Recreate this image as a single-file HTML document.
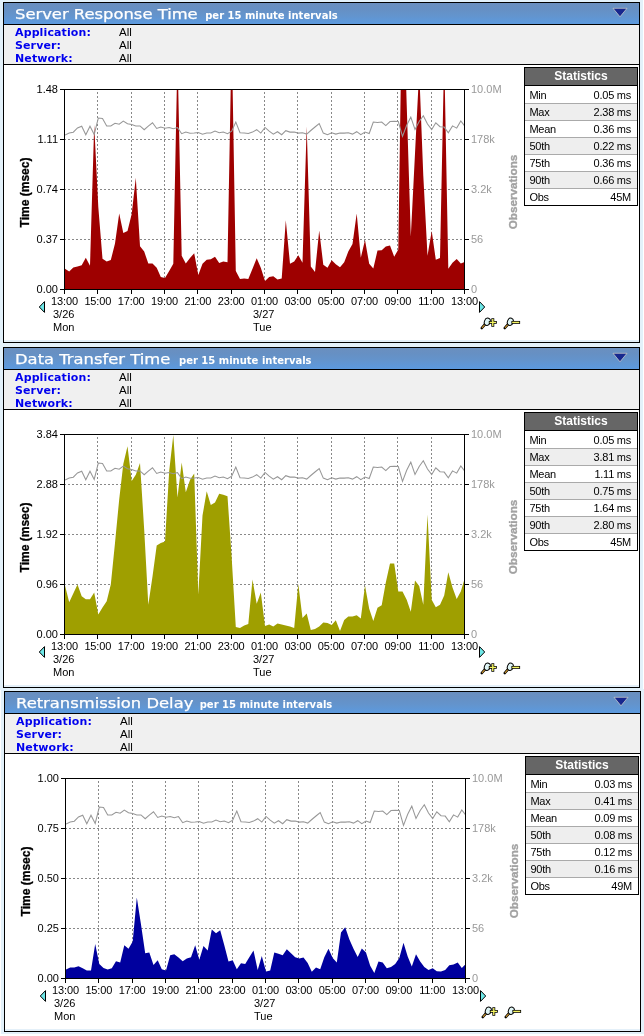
<!DOCTYPE html>
<html lang="en"><head><meta charset="utf-8"><title>Response Time Charts</title>
<style>
html,body{margin:0;padding:0;}
body{width:644px;height:1036px;background:#fff;position:relative;overflow:hidden;
 font-family:"Liberation Sans",sans-serif;font-size:11px;color:#000;}
.bg{position:absolute;background:#e3f1fa;}
.panel{position:absolute;left:3px;width:635px;height:339px;border:1px solid #000;background:#fff;}
.hd{position:relative;height:21px;border-bottom:1px solid #000;
 background:linear-gradient(#6a8fbf 0%,#6690c4 30%,#6394cd 60%,#5c9adf 100%);
 color:#fff;font-family:"DejaVu Sans","Liberation Sans",sans-serif;white-space:nowrap;}
.hd .t{position:absolute;left:11px;top:1.8px;font-size:13.75px;line-height:19px;letter-spacing:0;transform:scaleX(1.19);transform-origin:0 50%;-webkit-text-stroke:0.25px #fff;}
.hd .s{position:absolute;top:7px;font-size:10px;line-height:12px;font-weight:bold;}
.hd svg{position:absolute;left:608px;top:4px;}
.info{position:relative;height:39px;border-bottom:1px solid #000;background:#f0f0f0;}
.info div{position:absolute;left:11px;height:13px;line-height:13px;white-space:nowrap;}
.info b{font-family:"DejaVu Sans","Liberation Sans",sans-serif;font-size:11px;color:#0000ee;font-weight:bold;letter-spacing:0.12px;}
.info span{position:absolute;left:104px;top:0;font-size:11.5px;}
.body{position:relative;height:277px;background:linear-gradient(#fff 0,#fff 275px,#e4f0f9 275px);}
.body svg{position:absolute;left:0;top:0;}
.st{position:absolute;left:520px;top:2px;width:112px;height:137px;border:1px solid #000;font-size:11px;background:#fff;}
.st .h{height:17px;line-height:16px;border-bottom:1px solid #000;background:#666;color:#fff;font-weight:bold;font-size:12px;text-align:center;}
.st .r{position:relative;height:16px;border-top:1px solid #aaa;line-height:17px;}
.st .r.f{height:17px;border-top:none;}
.st .r.a{background:#eee;}
.st .r.f span,.st .r.f i{top:1px;}
.st .r span{position:absolute;left:4.5px;top:0.3px;letter-spacing:-0.3px;}
.st .r i{position:absolute;right:6px;top:0.3px;font-style:normal;letter-spacing:-0.25px;}
</style></head><body>
<div class="bg" style="left:0;top:0;width:643px;height:690px"></div><div class="bg" style="left:1px;top:689px;width:643px;height:345px"></div>
<div class="panel" style="top:2px;left:3px">
<div class="hd"><span class="t">Server Response Time</span><span class="s" style="left:201.2px">per 15 minute intervals</span>
<svg width="16" height="12" viewBox="0 0 16 12"><path d="M1.0,1.3 H15.0 L8,9.8 Z" fill="#17278e" stroke="#d4d2cc" stroke-width="0.7"/></svg></div>
<div class="info"><div style="top:1px"><b>Application:</b><span>All</span></div><div style="top:14px"><b>Server:</b><span>All</span></div><div style="top:27px"><b>Network:</b><span>All</span></div></div>
<div class="body">
<svg width="635" height="277" viewBox="4 65 635 277" font-family="'Liberation Sans',sans-serif" font-size="11">
<defs><clipPath id="c0"><rect x="65" y="90" width="399" height="199"/></clipPath></defs>
<path d="M65,139.5H464 M65,189.5H464 M65,239.5H464" stroke="#888" stroke-width="1" stroke-dasharray="2 2" stroke-dashoffset="1" fill="none" shape-rendering="crispEdges"/>
<path d="M97.5,90V289 M131.5,90V289 M164.5,90V289 M197.5,90V289 M231.5,90V289 M264.5,90V289 M297.5,90V289 M331.5,90V289 M364.5,90V289 M397.5,90V289 M431.5,90V289" stroke="#888" stroke-width="1" stroke-dasharray="2 2" stroke-dashoffset="2" fill="none" shape-rendering="crispEdges"/>
<path d="M65.0,289.5 L65.0,268.8 L69.2,271.5 L73.3,267.4 L77.5,266.4 L81.7,265.2 L85.8,257.7 L90.0,265.8 L94.2,125.0 L98.3,207.1 L102.5,258.7 L106.7,261.4 L110.8,260.1 L115.0,243.5 L119.2,213.5 L123.3,233.0 L127.5,231.0 L131.7,214.1 L135.8,177.7 L140.0,246.2 L144.2,251.6 L148.3,263.4 L152.5,263.4 L156.7,267.8 L160.8,277.0 L165.0,278.0 L169.2,270.9 L173.3,263.8 L177.5,53.5 L181.7,255.7 L185.8,263.4 L190.0,258.1 L194.2,253.2 L198.3,274.9 L202.5,263.8 L206.7,259.7 L210.8,259.3 L215.0,256.7 L219.2,263.0 L223.3,261.4 L227.5,262.2 L231.7,34.5 L235.8,270.9 L240.0,279.0 L244.2,278.4 L248.3,279.0 L252.5,268.8 L256.7,258.3 L260.8,267.8 L265.0,281.0 L269.2,277.0 L273.3,276.3 L277.5,279.6 L281.7,278.6 L285.8,220.2 L290.0,263.8 L294.2,261.4 L298.3,255.3 L302.5,262.8 L306.7,126.6 L310.8,266.4 L315.0,271.9 L319.2,230.4 L323.3,264.8 L327.5,267.8 L331.7,260.3 L335.8,264.2 L340.0,267.2 L344.2,262.2 L348.3,251.6 L352.5,244.1 L356.7,213.5 L360.8,257.7 L365.0,240.1 L369.2,263.8 L373.3,268.4 L377.5,250.6 L381.7,250.2 L385.8,246.6 L390.0,245.5 L394.2,256.7 L398.3,249.6 L402.5,-32.1 L406.7,104.5 L410.8,236.4 L415.0,153.4 L419.2,70.5 L423.3,175.7 L427.5,255.7 L431.7,231.0 L435.8,259.7 L440.0,258.1 L444.2,54.5 L448.3,268.8 L452.5,262.8 L456.7,259.1 L460.8,263.4 L465.0,261.8 L465.0,289.5 Z" fill="#9e0000" clip-path="url(#c0)"/>
<polyline points="65.0,135.1 69.2,133.1 73.3,132.2 77.5,128.0 81.7,126.2 85.8,134.8 90.0,126.2 94.2,134.5 98.3,118.0 102.5,118.5 106.7,125.9 110.8,125.9 115.0,123.2 119.2,124.2 123.3,121.1 127.5,123.7 131.7,124.5 135.8,125.9 140.0,125.9 144.2,129.7 148.3,126.2 152.5,122.8 156.7,128.5 160.8,127.1 165.0,128.3 169.2,127.6 173.3,128.7 177.5,127.6 181.7,133.7 185.8,132.1 190.0,133.3 194.2,133.1 198.3,132.5 202.5,134.3 206.7,133.1 210.8,132.9 215.0,131.1 219.2,132.7 223.3,132.1 227.5,133.7 231.7,131.1 235.8,122.0 240.0,132.7 244.2,133.1 248.3,133.5 252.5,132.1 256.7,129.7 260.8,133.1 265.0,127.4 269.2,131.1 273.3,134.1 277.5,131.7 281.7,134.7 285.8,130.7 290.0,132.1 294.2,132.1 298.3,133.1 302.5,132.7 306.7,134.1 310.8,130.5 315.0,127.0 319.2,123.6 323.3,133.1 327.5,134.7 331.7,132.7 335.8,134.1 340.0,133.1 344.2,133.1 348.3,132.7 352.5,134.1 356.7,131.7 360.8,134.7 365.0,132.1 369.2,133.5 373.3,122.0 377.5,122.4 381.7,122.0 385.8,125.6 390.0,121.6 394.2,121.3 398.3,121.5 402.5,136.4 406.7,125.3 410.8,117.2 415.0,129.5 419.2,121.5 423.3,115.7 427.5,124.0 431.7,129.5 435.8,122.8 440.0,126.7 444.2,127.1 448.3,132.7 452.5,125.9 456.7,128.1 460.8,120.9 465.0,126.5" fill="none" stroke="#979797" stroke-width="1.05" clip-path="url(#c0)"/>
<path d="M64.5,89V290 M464.5,89V290 M64,89.5H465 M64,289.5H465 M60,89.5H64 M465,89.5H469 M60,139.5H64 M465,139.5H469 M60,189.5H64 M465,189.5H469 M60,239.5H64 M465,239.5H469 M60,289.5H64 M465,289.5H469 M64.5,290V294 M97.5,290V294 M131.5,290V294 M164.5,290V294 M197.5,290V294 M231.5,290V294 M264.5,290V294 M297.5,290V294 M331.5,290V294 M364.5,290V294 M397.5,290V294 M431.5,290V294 M464.5,290V294" stroke="#000" stroke-width="1" fill="none" shape-rendering="crispEdges"/>
<text x="58" y="93" text-anchor="end">1.48</text>
<text x="58" y="143" text-anchor="end">1.11</text>
<text x="58" y="193" text-anchor="end">0.74</text>
<text x="58" y="243" text-anchor="end">0.37</text>
<text x="58" y="293" text-anchor="end">0.00</text>
<text x="471" y="93" fill="#999">10.0M</text>
<text x="471" y="143" fill="#999">178k</text>
<text x="471" y="193" fill="#999">3.2k</text>
<text x="471" y="243" fill="#999">56</text>
<text x="471" y="293" fill="#999">0</text>
<text x="64.5" y="305" text-anchor="middle" letter-spacing="-0.15">13:00</text>
<text x="97.8" y="305" text-anchor="middle" letter-spacing="-0.15">15:00</text>
<text x="131.2" y="305" text-anchor="middle" letter-spacing="-0.15">17:00</text>
<text x="164.5" y="305" text-anchor="middle" letter-spacing="-0.15">19:00</text>
<text x="197.8" y="305" text-anchor="middle" letter-spacing="-0.15">21:00</text>
<text x="231.2" y="305" text-anchor="middle" letter-spacing="-0.15">23:00</text>
<text x="264.5" y="305" text-anchor="middle" letter-spacing="-0.15">01:00</text>
<text x="297.8" y="305" text-anchor="middle" letter-spacing="-0.15">03:00</text>
<text x="331.2" y="305" text-anchor="middle" letter-spacing="-0.15">05:00</text>
<text x="364.5" y="305" text-anchor="middle" letter-spacing="-0.15">07:00</text>
<text x="397.8" y="305" text-anchor="middle" letter-spacing="-0.15">09:00</text>
<text x="431.2" y="305" text-anchor="middle" letter-spacing="-0.15">11:00</text>
<text x="464.5" y="305" text-anchor="middle" letter-spacing="-0.15">13:00</text>
<text x="53" y="318">3/26</text><text x="53" y="331">Mon</text>
<text x="253" y="318">3/27</text><text x="253" y="331">Tue</text>
<text transform="translate(28.8,192.5) rotate(-90)" text-anchor="middle" font-weight="bold" font-size="12" stroke="#000" stroke-width="0.3">Time (msec)</text>
<text transform="translate(517,192) rotate(-90)" text-anchor="middle" font-weight="bold" font-size="11.7" fill="#a2a2a2" stroke="#a2a2a2" stroke-width="0.35">Observations</text>
<path d="M39.3,307 L44.5,301.6 V312.4 Z" fill="#6ee8e8" stroke="#000" stroke-width="1"/>
<path d="M484.7,307 L479.5,301.6 V312.4 Z" fill="#6ee8e8" stroke="#000" stroke-width="1"/>
<g transform="translate(481,318)">
<path d="M0.8,10 L4.4,5.9" stroke="#000" stroke-width="2.6" stroke-linecap="round"/>
<path d="M1.0,9.8 L4.4,5.9" stroke="#c8922a" stroke-width="1.2" stroke-linecap="butt"/>
<ellipse cx="6.3" cy="3.8" rx="2.9" ry="3.7" transform="rotate(20 6.3 3.8)" fill="#dff5f5" stroke="#000" stroke-width="1"/>
<path d="M7.8,4.4H15.8M11.8,0.2V8.8" stroke="#000" stroke-width="2.9"/>
<path d="M8.6,4.4H15.0M11.8,1.0V8.0" stroke="#f4f462" stroke-width="1.4"/>
</g>
<g transform="translate(504,318)">
<path d="M0.8,10 L4.4,5.9" stroke="#000" stroke-width="2.6" stroke-linecap="round"/>
<path d="M1.0,9.8 L4.4,5.9" stroke="#c8922a" stroke-width="1.2" stroke-linecap="butt"/>
<ellipse cx="6.3" cy="3.8" rx="2.9" ry="3.7" transform="rotate(20 6.3 3.8)" fill="#dff5f5" stroke="#000" stroke-width="1"/>
<path d="M7.4,4.4H16.1" stroke="#000" stroke-width="2.9"/>
<path d="M8.2,4.4H15.3" stroke="#f4f462" stroke-width="1.4"/>
</g>
</svg>
<div class="st"><div class="h">Statistics</div>
<div class="r f"><span>Min</span><i>0.05 ms</i></div>
<div class="r a"><span>Max</span><i>2.38 ms</i></div>
<div class="r"><span>Mean</span><i>0.36 ms</i></div>
<div class="r a"><span>50th</span><i>0.22 ms</i></div>
<div class="r"><span>75th</span><i>0.36 ms</i></div>
<div class="r a"><span>90th</span><i>0.66 ms</i></div>
<div class="r"><span>Obs</span><i>45M</i></div>
</div>
</div></div>
<div class="panel" style="top:347px;left:3px">
<div class="hd"><span class="t">Data Transfer Time</span><span class="s" style="left:175.0px">per 15 minute intervals</span>
<svg width="16" height="12" viewBox="0 0 16 12"><path d="M1.0,1.3 H15.0 L8,9.8 Z" fill="#17278e" stroke="#d4d2cc" stroke-width="0.7"/></svg></div>
<div class="info"><div style="top:1px"><b>Application:</b><span>All</span></div><div style="top:14px"><b>Server:</b><span>All</span></div><div style="top:27px"><b>Network:</b><span>All</span></div></div>
<div class="body">
<svg width="635" height="277" viewBox="4 65 635 277" font-family="'Liberation Sans',sans-serif" font-size="11">
<defs><clipPath id="c1"><rect x="65" y="90" width="399" height="199"/></clipPath></defs>
<path d="M65,139.5H464 M65,189.5H464 M65,239.5H464" stroke="#888" stroke-width="1" stroke-dasharray="2 2" stroke-dashoffset="1" fill="none" shape-rendering="crispEdges"/>
<path d="M97.5,90V289 M131.5,90V289 M164.5,90V289 M197.5,90V289 M231.5,90V289 M264.5,90V289 M297.5,90V289 M331.5,90V289 M364.5,90V289 M397.5,90V289 M431.5,90V289" stroke="#888" stroke-width="1" stroke-dasharray="2 2" stroke-dashoffset="2" fill="none" shape-rendering="crispEdges"/>
<path d="M65.0,289.5 L65.0,240.5 L69.2,257.3 L73.3,248.6 L77.5,239.5 L81.7,251.2 L85.8,254.3 L90.0,254.3 L94.2,247.6 L98.3,269.5 L102.5,262.4 L106.7,256.3 L110.8,239.5 L115.0,197.9 L119.2,154.4 L123.3,118.9 L127.5,101.3 L131.7,136.1 L135.8,129.7 L140.0,117.9 L144.2,184.8 L148.3,259.7 L152.5,231.4 L156.7,200.6 L160.8,197.9 L165.0,196.5 L169.2,126.0 L173.3,90.0 L177.5,152.4 L181.7,117.5 L185.8,147.3 L190.0,135.1 L194.2,128.4 L198.3,249.6 L202.5,170.6 L206.7,146.3 L210.8,160.1 L215.0,157.4 L219.2,148.7 L223.3,149.7 L227.5,151.3 L231.7,213.1 L235.8,282.0 L240.0,283.0 L244.2,280.4 L248.3,279.0 L252.5,234.4 L256.7,258.7 L260.8,247.6 L265.0,281.0 L269.2,279.4 L273.3,281.4 L277.5,278.4 L281.7,279.6 L285.8,280.6 L290.0,281.6 L294.2,283.0 L298.3,238.9 L302.5,272.9 L306.7,268.4 L310.8,285.1 L315.0,284.0 L319.2,281.6 L323.3,277.4 L327.5,278.0 L331.7,280.0 L335.8,275.3 L340.0,286.1 L344.2,274.9 L348.3,271.5 L352.5,271.5 L356.7,270.3 L360.8,273.5 L365.0,240.5 L369.2,263.8 L373.3,275.9 L377.5,262.8 L381.7,260.3 L385.8,237.4 L390.0,218.6 L394.2,218.6 L398.3,246.6 L402.5,246.6 L406.7,254.7 L410.8,266.8 L415.0,235.4 L419.2,241.1 L423.3,259.7 L427.5,169.6 L431.7,254.7 L435.8,262.2 L440.0,259.7 L444.2,250.6 L448.3,227.3 L452.5,242.5 L456.7,254.1 L460.8,246.6 L465.0,232.4 L465.0,289.5 Z" fill="#9f9f00" clip-path="url(#c1)"/>
<polyline points="65.0,135.1 69.2,133.1 73.3,132.2 77.5,128.0 81.7,126.2 85.8,134.8 90.0,126.2 94.2,134.5 98.3,118.0 102.5,118.5 106.7,125.9 110.8,125.9 115.0,123.2 119.2,124.2 123.3,121.1 127.5,123.7 131.7,124.5 135.8,125.9 140.0,125.9 144.2,129.7 148.3,126.2 152.5,122.8 156.7,128.5 160.8,127.1 165.0,128.3 169.2,127.6 173.3,128.7 177.5,127.6 181.7,133.7 185.8,132.1 190.0,133.3 194.2,133.1 198.3,132.5 202.5,134.3 206.7,133.1 210.8,132.9 215.0,131.1 219.2,132.7 223.3,132.1 227.5,133.7 231.7,131.1 235.8,122.0 240.0,132.7 244.2,133.1 248.3,133.5 252.5,132.1 256.7,129.7 260.8,133.1 265.0,127.4 269.2,131.1 273.3,134.1 277.5,131.7 281.7,134.7 285.8,130.7 290.0,132.1 294.2,132.1 298.3,133.1 302.5,132.7 306.7,134.1 310.8,130.5 315.0,127.0 319.2,123.6 323.3,133.1 327.5,134.7 331.7,132.7 335.8,134.1 340.0,133.1 344.2,133.1 348.3,132.7 352.5,134.1 356.7,131.7 360.8,134.7 365.0,132.1 369.2,133.5 373.3,122.0 377.5,122.4 381.7,122.0 385.8,125.6 390.0,121.6 394.2,121.3 398.3,121.5 402.5,136.4 406.7,125.3 410.8,117.2 415.0,129.5 419.2,121.5 423.3,115.7 427.5,124.0 431.7,129.5 435.8,122.8 440.0,126.7 444.2,127.1 448.3,132.7 452.5,125.9 456.7,128.1 460.8,120.9 465.0,126.5" fill="none" stroke="#979797" stroke-width="1.05" clip-path="url(#c1)"/>
<path d="M64.5,89V290 M464.5,89V290 M64,89.5H465 M64,289.5H465 M60,89.5H64 M465,89.5H469 M60,139.5H64 M465,139.5H469 M60,189.5H64 M465,189.5H469 M60,239.5H64 M465,239.5H469 M60,289.5H64 M465,289.5H469 M64.5,290V294 M97.5,290V294 M131.5,290V294 M164.5,290V294 M197.5,290V294 M231.5,290V294 M264.5,290V294 M297.5,290V294 M331.5,290V294 M364.5,290V294 M397.5,290V294 M431.5,290V294 M464.5,290V294" stroke="#000" stroke-width="1" fill="none" shape-rendering="crispEdges"/>
<text x="58" y="93" text-anchor="end">3.84</text>
<text x="58" y="143" text-anchor="end">2.88</text>
<text x="58" y="193" text-anchor="end">1.92</text>
<text x="58" y="243" text-anchor="end">0.96</text>
<text x="58" y="293" text-anchor="end">0.00</text>
<text x="471" y="93" fill="#999">10.0M</text>
<text x="471" y="143" fill="#999">178k</text>
<text x="471" y="193" fill="#999">3.2k</text>
<text x="471" y="243" fill="#999">56</text>
<text x="471" y="293" fill="#999">0</text>
<text x="64.5" y="305" text-anchor="middle" letter-spacing="-0.15">13:00</text>
<text x="97.8" y="305" text-anchor="middle" letter-spacing="-0.15">15:00</text>
<text x="131.2" y="305" text-anchor="middle" letter-spacing="-0.15">17:00</text>
<text x="164.5" y="305" text-anchor="middle" letter-spacing="-0.15">19:00</text>
<text x="197.8" y="305" text-anchor="middle" letter-spacing="-0.15">21:00</text>
<text x="231.2" y="305" text-anchor="middle" letter-spacing="-0.15">23:00</text>
<text x="264.5" y="305" text-anchor="middle" letter-spacing="-0.15">01:00</text>
<text x="297.8" y="305" text-anchor="middle" letter-spacing="-0.15">03:00</text>
<text x="331.2" y="305" text-anchor="middle" letter-spacing="-0.15">05:00</text>
<text x="364.5" y="305" text-anchor="middle" letter-spacing="-0.15">07:00</text>
<text x="397.8" y="305" text-anchor="middle" letter-spacing="-0.15">09:00</text>
<text x="431.2" y="305" text-anchor="middle" letter-spacing="-0.15">11:00</text>
<text x="464.5" y="305" text-anchor="middle" letter-spacing="-0.15">13:00</text>
<text x="53" y="318">3/26</text><text x="53" y="331">Mon</text>
<text x="253" y="318">3/27</text><text x="253" y="331">Tue</text>
<text transform="translate(28.8,192.5) rotate(-90)" text-anchor="middle" font-weight="bold" font-size="12" stroke="#000" stroke-width="0.3">Time (msec)</text>
<text transform="translate(517,192) rotate(-90)" text-anchor="middle" font-weight="bold" font-size="11.7" fill="#a2a2a2" stroke="#a2a2a2" stroke-width="0.35">Observations</text>
<path d="M39.3,307 L44.5,301.6 V312.4 Z" fill="#6ee8e8" stroke="#000" stroke-width="1"/>
<path d="M484.7,307 L479.5,301.6 V312.4 Z" fill="#6ee8e8" stroke="#000" stroke-width="1"/>
<g transform="translate(481,318)">
<path d="M0.8,10 L4.4,5.9" stroke="#000" stroke-width="2.6" stroke-linecap="round"/>
<path d="M1.0,9.8 L4.4,5.9" stroke="#c8922a" stroke-width="1.2" stroke-linecap="butt"/>
<ellipse cx="6.3" cy="3.8" rx="2.9" ry="3.7" transform="rotate(20 6.3 3.8)" fill="#dff5f5" stroke="#000" stroke-width="1"/>
<path d="M7.8,4.4H15.8M11.8,0.2V8.8" stroke="#000" stroke-width="2.9"/>
<path d="M8.6,4.4H15.0M11.8,1.0V8.0" stroke="#f4f462" stroke-width="1.4"/>
</g>
<g transform="translate(504,318)">
<path d="M0.8,10 L4.4,5.9" stroke="#000" stroke-width="2.6" stroke-linecap="round"/>
<path d="M1.0,9.8 L4.4,5.9" stroke="#c8922a" stroke-width="1.2" stroke-linecap="butt"/>
<ellipse cx="6.3" cy="3.8" rx="2.9" ry="3.7" transform="rotate(20 6.3 3.8)" fill="#dff5f5" stroke="#000" stroke-width="1"/>
<path d="M7.4,4.4H16.1" stroke="#000" stroke-width="2.9"/>
<path d="M8.2,4.4H15.3" stroke="#f4f462" stroke-width="1.4"/>
</g>
</svg>
<div class="st"><div class="h">Statistics</div>
<div class="r f"><span>Min</span><i>0.05 ms</i></div>
<div class="r a"><span>Max</span><i>3.81 ms</i></div>
<div class="r"><span>Mean</span><i>1.11 ms</i></div>
<div class="r a"><span>50th</span><i>0.75 ms</i></div>
<div class="r"><span>75th</span><i>1.64 ms</i></div>
<div class="r a"><span>90th</span><i>2.80 ms</i></div>
<div class="r"><span>Obs</span><i>45M</i></div>
</div>
</div></div>
<div class="panel" style="top:691px;left:4px">
<div class="hd"><span class="t">Retransmission Delay</span><span class="s" style="left:194.7px">per 15 minute intervals</span>
<svg width="16" height="12" viewBox="0 0 16 12"><path d="M1.0,1.3 H15.0 L8,9.8 Z" fill="#17278e" stroke="#d4d2cc" stroke-width="0.7"/></svg></div>
<div class="info"><div style="top:1px"><b>Application:</b><span>All</span></div><div style="top:14px"><b>Server:</b><span>All</span></div><div style="top:27px"><b>Network:</b><span>All</span></div></div>
<div class="body">
<svg width="635" height="277" viewBox="4 65 635 277" font-family="'Liberation Sans',sans-serif" font-size="11">
<defs><clipPath id="c2"><rect x="65" y="90" width="399" height="199"/></clipPath></defs>
<path d="M65,139.5H464 M65,189.5H464 M65,239.5H464" stroke="#888" stroke-width="1" stroke-dasharray="2 2" stroke-dashoffset="1" fill="none" shape-rendering="crispEdges"/>
<path d="M97.5,90V289 M131.5,90V289 M164.5,90V289 M197.5,90V289 M231.5,90V289 M264.5,90V289 M297.5,90V289 M331.5,90V289 M364.5,90V289 M397.5,90V289 M431.5,90V289" stroke="#888" stroke-width="1" stroke-dasharray="2 2" stroke-dashoffset="2" fill="none" shape-rendering="crispEdges"/>
<path d="M65.0,289.5 L65.0,280.5 L69.2,278.5 L73.3,278.5 L77.5,277.3 L81.7,279.3 L85.8,281.4 L90.0,281.4 L94.2,255.1 L98.3,275.1 L102.5,279.0 L106.7,280.5 L110.8,279.3 L115.0,272.2 L119.2,273.4 L123.3,256.3 L127.5,259.7 L131.7,252.5 L135.8,208.5 L140.0,235.4 L144.2,264.3 L148.3,263.5 L152.5,275.9 L156.7,271.3 L160.8,280.2 L165.0,281.4 L169.2,266.2 L173.3,265.2 L177.5,268.6 L181.7,272.2 L185.8,269.6 L190.0,268.2 L194.2,256.3 L198.3,270.8 L202.5,257.1 L206.7,261.4 L210.8,240.4 L215.0,244.3 L219.2,241.2 L223.3,256.3 L227.5,272.5 L231.7,271.3 L235.8,280.2 L240.0,274.2 L244.2,275.1 L248.3,268.2 L252.5,261.4 L256.7,281.0 L260.8,267.0 L265.0,282.4 L269.2,281.4 L273.3,263.5 L277.5,264.8 L281.7,266.2 L285.8,260.2 L290.0,264.3 L294.2,268.2 L298.3,269.4 L302.5,268.6 L306.7,273.9 L310.8,282.8 L315.0,278.5 L319.2,280.2 L323.3,268.2 L327.5,259.7 L331.7,269.1 L335.8,273.4 L340.0,243.5 L344.2,238.3 L348.3,250.3 L352.5,259.7 L356.7,267.9 L360.8,259.4 L365.0,263.6 L369.2,276.8 L373.3,283.9 L377.5,272.5 L381.7,273.4 L385.8,279.3 L390.0,278.1 L394.2,275.1 L398.3,269.1 L402.5,253.7 L406.7,267.4 L410.8,277.6 L415.0,265.3 L419.2,272.5 L423.3,278.1 L427.5,281.0 L431.7,279.3 L435.8,282.2 L440.0,282.4 L444.2,281.0 L448.3,276.3 L452.5,275.4 L456.7,273.4 L460.8,279.0 L465.0,274.7 L465.0,289.5 Z" fill="#00009e" clip-path="url(#c2)"/>
<polyline points="65.0,135.1 69.2,133.1 73.3,132.2 77.5,128.0 81.7,126.2 85.8,134.8 90.0,126.2 94.2,134.5 98.3,118.0 102.5,118.5 106.7,125.9 110.8,125.9 115.0,123.2 119.2,124.2 123.3,121.1 127.5,123.7 131.7,124.5 135.8,125.9 140.0,125.9 144.2,129.7 148.3,126.2 152.5,122.8 156.7,128.5 160.8,127.1 165.0,128.3 169.2,127.6 173.3,128.7 177.5,127.6 181.7,133.7 185.8,132.1 190.0,133.3 194.2,133.1 198.3,132.5 202.5,134.3 206.7,133.1 210.8,132.9 215.0,131.1 219.2,132.7 223.3,132.1 227.5,133.7 231.7,131.1 235.8,122.0 240.0,132.7 244.2,133.1 248.3,133.5 252.5,132.1 256.7,129.7 260.8,133.1 265.0,127.4 269.2,131.1 273.3,134.1 277.5,131.7 281.7,134.7 285.8,130.7 290.0,132.1 294.2,132.1 298.3,133.1 302.5,132.7 306.7,134.1 310.8,130.5 315.0,127.0 319.2,123.6 323.3,133.1 327.5,134.7 331.7,132.7 335.8,134.1 340.0,133.1 344.2,133.1 348.3,132.7 352.5,134.1 356.7,131.7 360.8,134.7 365.0,132.1 369.2,133.5 373.3,122.0 377.5,122.4 381.7,122.0 385.8,125.6 390.0,121.6 394.2,121.3 398.3,121.5 402.5,136.4 406.7,125.3 410.8,117.2 415.0,129.5 419.2,121.5 423.3,115.7 427.5,124.0 431.7,129.5 435.8,122.8 440.0,126.7 444.2,127.1 448.3,132.7 452.5,125.9 456.7,128.1 460.8,120.9 465.0,126.5" fill="none" stroke="#979797" stroke-width="1.05" clip-path="url(#c2)"/>
<path d="M64.5,89V290 M464.5,89V290 M64,89.5H465 M64,289.5H465 M60,89.5H64 M465,89.5H469 M60,139.5H64 M465,139.5H469 M60,189.5H64 M465,189.5H469 M60,239.5H64 M465,239.5H469 M60,289.5H64 M465,289.5H469 M64.5,290V294 M97.5,290V294 M131.5,290V294 M164.5,290V294 M197.5,290V294 M231.5,290V294 M264.5,290V294 M297.5,290V294 M331.5,290V294 M364.5,290V294 M397.5,290V294 M431.5,290V294 M464.5,290V294" stroke="#000" stroke-width="1" fill="none" shape-rendering="crispEdges"/>
<text x="58" y="93" text-anchor="end">1.00</text>
<text x="58" y="143" text-anchor="end">0.75</text>
<text x="58" y="193" text-anchor="end">0.50</text>
<text x="58" y="243" text-anchor="end">0.25</text>
<text x="58" y="293" text-anchor="end">0.00</text>
<text x="471" y="93" fill="#999">10.0M</text>
<text x="471" y="143" fill="#999">178k</text>
<text x="471" y="193" fill="#999">3.2k</text>
<text x="471" y="243" fill="#999">56</text>
<text x="471" y="293" fill="#999">0</text>
<text x="64.5" y="305" text-anchor="middle" letter-spacing="-0.15">13:00</text>
<text x="97.8" y="305" text-anchor="middle" letter-spacing="-0.15">15:00</text>
<text x="131.2" y="305" text-anchor="middle" letter-spacing="-0.15">17:00</text>
<text x="164.5" y="305" text-anchor="middle" letter-spacing="-0.15">19:00</text>
<text x="197.8" y="305" text-anchor="middle" letter-spacing="-0.15">21:00</text>
<text x="231.2" y="305" text-anchor="middle" letter-spacing="-0.15">23:00</text>
<text x="264.5" y="305" text-anchor="middle" letter-spacing="-0.15">01:00</text>
<text x="297.8" y="305" text-anchor="middle" letter-spacing="-0.15">03:00</text>
<text x="331.2" y="305" text-anchor="middle" letter-spacing="-0.15">05:00</text>
<text x="364.5" y="305" text-anchor="middle" letter-spacing="-0.15">07:00</text>
<text x="397.8" y="305" text-anchor="middle" letter-spacing="-0.15">09:00</text>
<text x="431.2" y="305" text-anchor="middle" letter-spacing="-0.15">11:00</text>
<text x="464.5" y="305" text-anchor="middle" letter-spacing="-0.15">13:00</text>
<text x="53" y="318">3/26</text><text x="53" y="331">Mon</text>
<text x="253" y="318">3/27</text><text x="253" y="331">Tue</text>
<text transform="translate(28.8,192.5) rotate(-90)" text-anchor="middle" font-weight="bold" font-size="12" stroke="#000" stroke-width="0.3">Time (msec)</text>
<text transform="translate(517,192) rotate(-90)" text-anchor="middle" font-weight="bold" font-size="11.7" fill="#a2a2a2" stroke="#a2a2a2" stroke-width="0.35">Observations</text>
<path d="M39.3,307 L44.5,301.6 V312.4 Z" fill="#6ee8e8" stroke="#000" stroke-width="1"/>
<path d="M484.7,307 L479.5,301.6 V312.4 Z" fill="#6ee8e8" stroke="#000" stroke-width="1"/>
<g transform="translate(481,318)">
<path d="M0.8,10 L4.4,5.9" stroke="#000" stroke-width="2.6" stroke-linecap="round"/>
<path d="M1.0,9.8 L4.4,5.9" stroke="#c8922a" stroke-width="1.2" stroke-linecap="butt"/>
<ellipse cx="6.3" cy="3.8" rx="2.9" ry="3.7" transform="rotate(20 6.3 3.8)" fill="#dff5f5" stroke="#000" stroke-width="1"/>
<path d="M7.8,4.4H15.8M11.8,0.2V8.8" stroke="#000" stroke-width="2.9"/>
<path d="M8.6,4.4H15.0M11.8,1.0V8.0" stroke="#f4f462" stroke-width="1.4"/>
</g>
<g transform="translate(504,318)">
<path d="M0.8,10 L4.4,5.9" stroke="#000" stroke-width="2.6" stroke-linecap="round"/>
<path d="M1.0,9.8 L4.4,5.9" stroke="#c8922a" stroke-width="1.2" stroke-linecap="butt"/>
<ellipse cx="6.3" cy="3.8" rx="2.9" ry="3.7" transform="rotate(20 6.3 3.8)" fill="#dff5f5" stroke="#000" stroke-width="1"/>
<path d="M7.4,4.4H16.1" stroke="#000" stroke-width="2.9"/>
<path d="M8.2,4.4H15.3" stroke="#f4f462" stroke-width="1.4"/>
</g>
</svg>
<div class="st"><div class="h">Statistics</div>
<div class="r f"><span>Min</span><i>0.03 ms</i></div>
<div class="r a"><span>Max</span><i>0.41 ms</i></div>
<div class="r"><span>Mean</span><i>0.09 ms</i></div>
<div class="r a"><span>50th</span><i>0.08 ms</i></div>
<div class="r"><span>75th</span><i>0.12 ms</i></div>
<div class="r a"><span>90th</span><i>0.16 ms</i></div>
<div class="r"><span>Obs</span><i>49M</i></div>
</div>
</div></div>
</body></html>
